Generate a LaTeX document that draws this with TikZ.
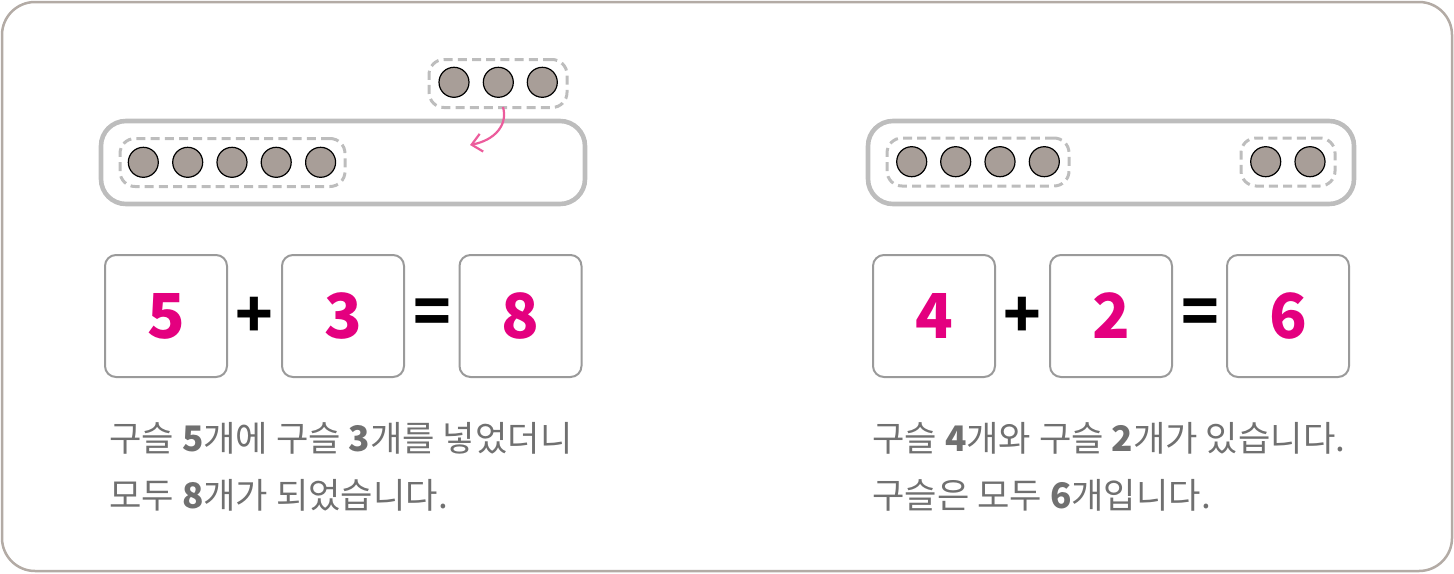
\documentclass[tikz,border=0pt]{standalone}
\usepackage{fontspec}
\setmainfont{Noto Sans CJK KR}
\usetikzlibrary{arrows.meta}
\definecolor{framec}{HTML}{B3ABA5}
\definecolor{barc}{HTML}{BDBDBD}
\definecolor{dashc}{HTML}{BDBDBD}
\definecolor{beadc}{HTML}{A89E98}
\definecolor{boxc}{HTML}{9A9A9A}
\definecolor{numc}{HTML}{E4007F}
\definecolor{textc}{HTML}{707070}
\definecolor{arrowc}{HTML}{EC5C9C}
\tikzset{
  bar/.style={draw=barc, line width=2.3pt, rounded corners=12.5pt, minimum width=242pt, minimum height=41.5pt, inner sep=0pt},
  group/.style={draw=dashc, line width=1.5pt, dash pattern=on 4.5pt off 2.6pt, rounded corners=7.5pt, minimum height=24pt, inner sep=0pt},
  bead/.style={circle, draw=black, fill=beadc, line width=0.6pt, minimum size=15pt, inner sep=0pt},
  numbox/.style={draw=boxc, line width=1pt, rounded corners=5.5pt, minimum width=61pt, minimum height=61pt, inner sep=0pt, text=numc, font=\fontsize{31}{31}\selectfont\bfseries},
  opsign/.style={inner sep=0pt, text=black, font=\fontsize{31}{31}\selectfont\bfseries},
  desc/.style={anchor=base west, inner sep=0pt, text=textc, font=\fontsize{17.6}{21}\selectfont},
}
\newcommand{\bnum}[1]{\textbf{#1}}
\begin{document}
\begin{tikzpicture}[x=0.5pt,y=-0.5pt]
\useasboundingbox (0,0) rectangle (1454,573);
\draw[framec, line width=1.25pt, rounded corners=16.5pt] (2,2) rectangle (1452,571);

% ---------- left ----------
\node[bar] (barL) at (343,162.5) {};
\node[group, minimum width=112.5pt] (gL) at (232.5,162.5) {};
\foreach \i/\x in {1/143.3,2/187.7,3/232,4/276.2,5/320.6}
  \node[bead] (l\i) at (\x,162.3) {};
\node[group, minimum width=69pt] (gT) at (498,83.5) {};
\foreach \i/\x in {1/454,2/498.3,3/542.3}
  \node[bead] (t\i) at (\x,82.3) {};
\coordinate (arrS) at (503,107);
\coordinate (arrE) at (470,145);
\draw[arrowc, line width=1.1pt, -{Straight Barb[length=5pt,width=9pt]}] (arrS) .. controls (508,125) and (495,140) .. (arrE);

\node[numbox] (bL1) at (166,316) {5};
\node[numbox] (bL2) at (343,316) {3};
\node[numbox] (bL3) at (520.5,316) {8};
\node[opsign] (pL) at (254,317) {+};
\node[opsign] (eL) at (432,317) {=};

\node[desc] (tL1) at (109,451) {구슬 \bnum{5}개에 구슬 \bnum{3}개를 넣었더니};
\node[desc] (tL2) at (109,508) {모두 \bnum{8}개가 되었습니다.};

% ---------- right ----------
\node[bar, minimum width=243pt] (barR) at (1111,162.5) {};
\node[group, minimum width=91pt] (gR1) at (978,162) {};
\foreach \i/\x in {1/911.7,2/955.7,3/1000,4/1044.3}
  \node[bead] (r\i) at (\x,161.7) {};
\node[group, minimum width=47pt] (gR2) at (1288,162) {};
\foreach \i/\x in {5/1265.7,6/1310}
  \node[bead] (r\i) at (\x,161.7) {};

\node[numbox] (bR1) at (934,316) {4};
\node[numbox] (bR2) at (1111,316) {2};
\node[numbox] (bR3) at (1288,316) {6};
\node[opsign] (pR) at (1022,317) {+};
\node[opsign] (eR) at (1200,317) {=};

\node[desc] (tR1) at (872,451) {구슬 \bnum{4}개와 구슬 \bnum{2}개가 있습니다.};
\node[desc] (tR2) at (872,508) {구슬은 모두 \bnum{6}개입니다.};
\end{tikzpicture}
\end{document}
